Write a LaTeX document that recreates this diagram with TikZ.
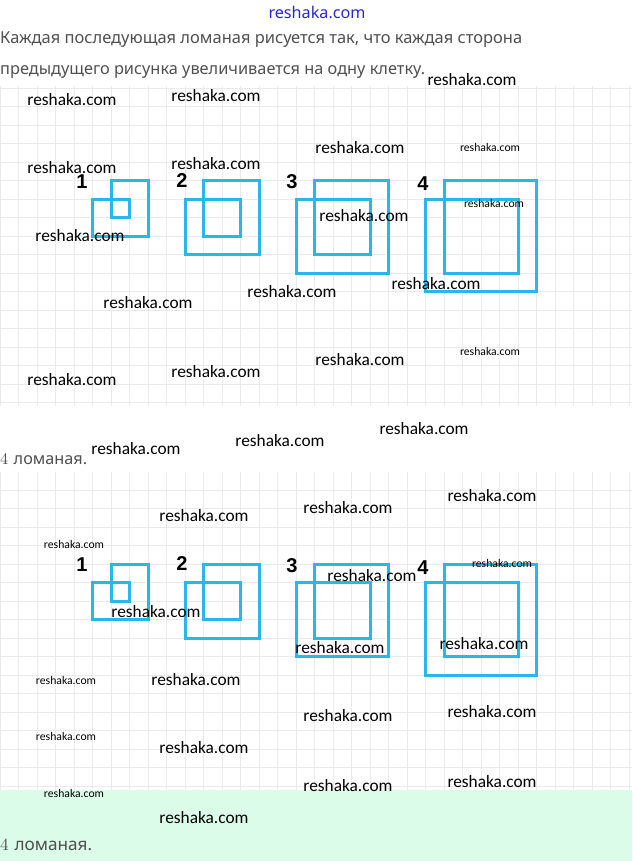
\documentclass[tikz,border=0pt]{standalone}
\usepackage{fontspec}
\newfontfamily\wmfont{Carlito}
\newfontfamily\txtfont{Noto Sans}
\newfontfamily\lblfont{Liberation Sans}
\definecolor{polyblue}{RGB}{41,182,232}
\definecolor{gridgray}{RGB}{234,234,234}
\definecolor{txtgray}{RGB}{80,80,80}
\definecolor{mint}{RGB}{220,252,234}
\definecolor{topblue}{RGB}{40,40,210}
\newcommand\rsL{\resizebox{89pt}{!}{\wmfont reshaka.com}}
\newcommand\rsS{\resizebox{60pt}{!}{\wmfont reshaka.com}}
\tikzset{
  gridline/.style={draw=gridgray, line width=0.9pt},
  poly/.style={draw=polyblue, line width=2.8pt, line join=miter},
  wm/.style={inner sep=0pt, text=black},
  numlbl/.style={inner sep=0pt, font=\lblfont\bfseries\fontsize{20}{20}\selectfont, text=black},
  plain/.style={inner sep=0pt, anchor=west, text=txtgray}
}
\newcommand\polyfig[3]{% x, y, n
  \begin{scope}[shift={(#1,#2)}, x=18.5pt, y=-18.5pt]
    \pgfmathtruncatemacro\na{#3+1}
    \pgfmathtruncatemacro\nb{#3+2}
    \draw[poly] (0,0) -- (0,\na) -- (\nb,\na) -- (\nb,-1) -- (1,-1) -- (1,#3) -- (\na,#3) -- (\na,0) -- cycle;
  \end{scope}}
\begin{document}
\begin{tikzpicture}[x=1pt, y=-1pt]
\useasboundingbox (0,0) rectangle (632,861);
\fill[white] (0,0) rectangle (632,861);
% grids
\begin{scope}
  \clip (0,86) rectangle (632,406);
  \foreach \k in {0,...,34} \draw[gridline] ({0.2+18.5*\k},86) -- ({0.2+18.5*\k},406);
  \foreach \k in {-6,...,11} \draw[gridline] (0,{199.3+18.5*\k}) -- (632,{199.3+18.5*\k});
\end{scope}
\begin{scope}
  \clip (0,472) rectangle (632,790);
  \foreach \k in {0,...,34} \draw[gridline] ({0.2+18.5*\k},472) -- ({0.2+18.5*\k},790);
  \foreach \k in {-6,...,11} \draw[gridline] (0,{582.7+18.5*\k}) -- (632,{582.7+18.5*\k});
\end{scope}
\fill[mint] (0,790) rectangle (632,861);
% header text
\node[inner sep=0pt, text=topblue] (top) at (317,12) {\resizebox{97pt}{!}{\txtfont reshaka.com}};
\node[plain] (t1) at (0,40) {\resizebox{522pt}{!}{\txtfont Каждая последующая ломаная рисуется так, что каждая сторона}};
\node[plain] (t2) at (0,72) {\resizebox{425pt}{!}{\txtfont предыдущего рисунка увеличивается на одну клетку.}};
% figures panel 1
\polyfig{92.7}{199.3}{1}
\polyfig{185.2}{199.3}{2}
\polyfig{296.2}{199.3}{3}
\polyfig{425.7}{199.3}{4}
\node[numlbl] (a1) at (82,182) {1};
\node[numlbl] (a2) at (182,181) {2};
\node[numlbl] (a3) at (292,182) {3};
\node[numlbl] (a4) at (423,184) {4};
% figures panel 2
\polyfig{92.7}{582.7}{1}
\polyfig{185.2}{582.7}{2}
\polyfig{296.2}{582.7}{3}
\polyfig{425.7}{582.7}{4}
\node[numlbl] (b1) at (82,565) {1};
\node[numlbl] (b2) at (182,564) {2};
\node[numlbl] (b3) at (292,566) {3};
\node[numlbl] (b4) at (423,568) {4};
% answers
\node[plain] (ans1) at (0,459) {\resizebox{87pt}{!}{\rmfamily 4\ \txtfont ломаная.}};
\node[plain] (ans2) at (0,845) {\resizebox{92pt}{!}{\rmfamily 4\ \txtfont ломаная.}};
% watermarks panel 1
\node[wm] (w1) at (472,80) {\rsL};
\node[wm] (w2) at (72,100) {\rsL};
\node[wm] (w3) at (216,96) {\rsL};
\node[wm] (w4) at (72,168) {\rsL};
\node[wm] (w5) at (216,164) {\rsL};
\node[wm] (w6) at (360,148) {\rsL};
\node[wm] (w7) at (490,147) {\rsS};
\node[wm] (w8) at (80,236) {\rsL};
\node[wm] (w9) at (364,216) {\rsL};
\node[wm] (w10) at (494,203) {\rsS};
\node[wm] (w11) at (292,292) {\rsL};
\node[wm] (w12) at (436,284) {\rsL};
\node[wm] (w13) at (148,303) {\rsL};
\node[wm] (w14) at (360,360) {\rsL};
\node[wm] (w15) at (490,351) {\rsS};
\node[wm] (w16) at (72,380) {\rsL};
\node[wm] (w17) at (216,372) {\rsL};
\node[wm] (w18) at (136,449) {\rsL};
\node[wm] (w19) at (280,441) {\rsL};
\node[wm] (w20) at (424,429) {\rsL};
% watermarks panel 2
\node[wm] (v1) at (492,496) {\rsL};
\node[wm] (v2) at (348,508) {\rsL};
\node[wm] (v3) at (204,516) {\rsL};
\node[wm] (v4) at (74,544) {\rsS};
\node[wm] (v5) at (502,563) {\rsS};
\node[wm] (v6) at (372,576) {\rsL};
\node[wm] (v7) at (156,612) {\rsL};
\node[wm] (v8) at (340,648) {\rsL};
\node[wm] (v9) at (484,644) {\rsL};
\node[wm] (v10) at (66,680) {\rsS};
\node[wm] (v11) at (196,680) {\rsL};
\node[wm] (v12) at (348,716) {\rsL};
\node[wm] (v13) at (492,712) {\rsL};
\node[wm] (v14) at (66,736) {\rsS};
\node[wm] (v15) at (204,748) {\rsL};
\node[wm] (v16) at (74,793) {\rsS};
\node[wm] (v17) at (348,786) {\rsL};
\node[wm] (v18) at (492,782) {\rsL};
\node[wm] (v19) at (204,818) {\rsL};
\end{tikzpicture}
\end{document}
